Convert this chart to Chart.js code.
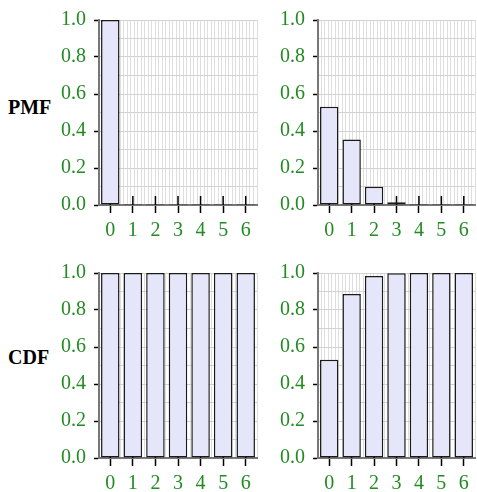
<!DOCTYPE html>
<html>
<head>
<meta charset="utf-8">
<script src="https://cdn.jsdelivr.net/npm/chart.js@4/dist/chart.umd.min.js"></script>
<style>
  html, body { margin: 0; padding: 0; background: #fff; overflow: hidden; }
  #wrap { position: relative; width: 477px; height: 492px; }
  .cell { position: absolute; }
  .lbl {
    position: absolute; left: 8px;
    font: bold 20px "Liberation Serif", "Times New Roman", serif;
    line-height: 20px; color: #000;
  }
</style>
</head>
<body>
<div id="wrap">
  <div class="lbl" style="top:97px">PMF</div>
  <div class="lbl" style="top:347px">CDF</div>
  <div class="cell" style="left:50px;top:0;width:210px;height:250px"><canvas id="pmfA"></canvas></div>
  <div class="cell" style="left:269px;top:0;width:208px;height:250px"><canvas id="pmfB"></canvas></div>
  <div class="cell" style="left:50px;top:253px;width:210px;height:250px"><canvas id="cdfA"></canvas></div>
  <div class="cell" style="left:269px;top:253px;width:208px;height:250px"><canvas id="cdfB"></canvas></div>
</div>
<script>
// categories (k) and the four series
const categories = ['0', '1', '2', '3', '4', '5', '6'];
const pmfLeft  = [1, 0, 0, 0, 0, 0, 0];
const pmfRight = [0.531, 0.354, 0.098, 0.0146, 0.0012, 0.00005, 0.000001];
const cdfLeft  = [1, 1, 1, 1, 1, 1, 1];
const cdfRight = [0.531, 0.886, 0.984, 0.9987, 0.9999, 1, 1];
const yTickLabels = ['0.0', '0.2', '0.4', '0.6', '0.8', '1.0'];

const green = '#228b22';
Chart.defaults.font.family = "'Liberation Serif', 'Times New Roman', serif";
Chart.defaults.font.size = 20;

// tick marks also poke up into the plot (drawn under the bars)
const innerTicks = {
  id: 'innerTicks',
  beforeDatasetsDraw(chart) {
    const x = chart.scales.x, ctx = chart.ctx;
    const base = chart.chartArea.bottom;
    ctx.save();
    ctx.strokeStyle = '#000';
    ctx.lineWidth = 1.5;
    x.ticks.forEach((t, i) => {
      const px = x.getPixelForTick(i);
      ctx.beginPath();
      ctx.moveTo(px, base);
      ctx.lineTo(px, base - 9);
      ctx.stroke();
    });
    ctx.restore();
  }
};

function makeChart(id, values, padRight) {
  new Chart(document.getElementById(id), {
    type: 'bar',
    data: {
      labels: categories,
      datasets: [{
        data: values,
        xAxisID: 'x',
        backgroundColor: '#e6e6fa',
        borderColor: '#1a1a1a',
        borderWidth: 1.5,
        borderSkipped: false,
        minBarLength: 1,
        categoryPercentage: 1,
        barPercentage: 0.82
      }]
    },
    options: {
      responsive: true,
      maintainAspectRatio: false,
      animation: false,
      layout: { padding: { top: 16, right: padRight, left: 0, bottom: 0 } },
      plugins: { legend: { display: false }, tooltip: { enabled: false } },
      scales: {
        x: {
          type: 'category',
          offset: true,
          grid: { offset: false, drawOnChartArea: false, tickLength: 8, tickColor: '#000', tickWidth: 1.5 },
          border: { color: '#777', width: 2 },
          ticks: { color: green, padding: 6, maxRotation: 0, autoSkip: false },
          afterFit: s => { s.height = 45; }
        },
        xg: {
          axis: 'x',
          type: 'linear',
          position: 'bottom',
          min: 0, max: 44,
          grid: { color: '#dedede', lineWidth: 1, drawTicks: false },
          border: { display: false },
          ticks: { display: false, autoSkip: false },
          // one faint grid line every unit across the plot
          afterBuildTicks: s => { s.ticks = Array.from({ length: 45 }, (_, i) => ({ value: i })); },
          afterFit: s => { s.height = 0; }
        },
        y: {
          min: 0, max: 1,
          grid: {
            color: '#d2d2d2', lineWidth: 1, tickLength: 5, tickWidth: 1.5,
            tickColor: c => (c.index % 2 === 0 ? '#000' : 'rgba(0,0,0,0)')
          },
          border: { color: '#777', width: 2 },
          ticks: {
            stepSize: 0.1, autoSkip: false, padding: 8, color: green,
            callback: (v, i) => (i % 2 === 0 ? yTickLabels[i / 2] : '')
          },
          afterFit: s => { s.width = 49; }
        }
      }
    },
    plugins: [innerTicks]
  });
}

makeChart('pmfA', pmfLeft, 3);
makeChart('pmfB', pmfRight, 2);
makeChart('cdfA', cdfLeft, 3);
makeChart('cdfB', cdfRight, 2);
</script>
</body>
</html>
